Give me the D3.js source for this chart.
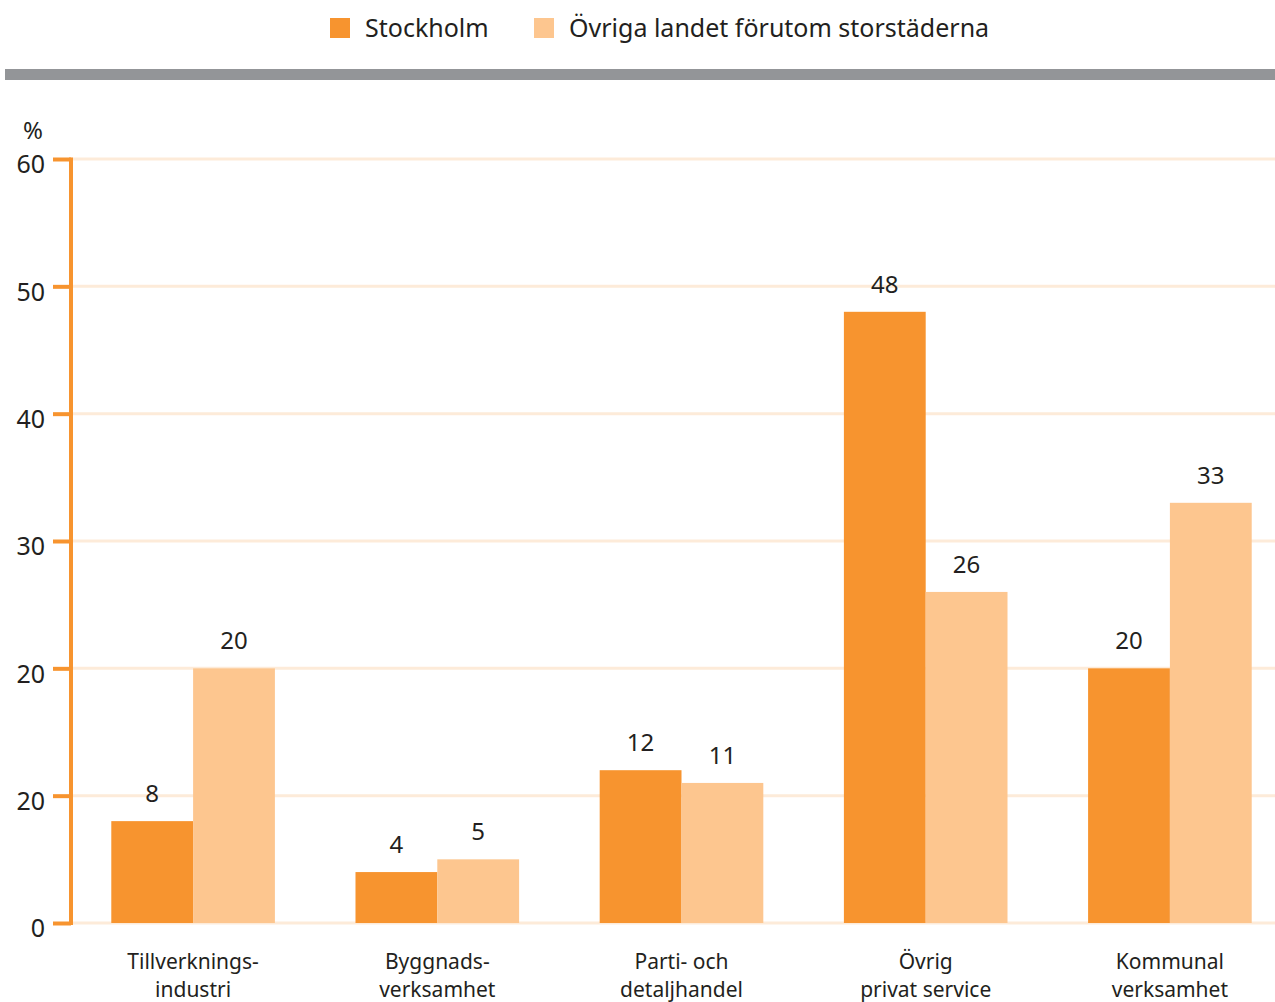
<!DOCTYPE html>
<html><head><meta charset="utf-8">
<script src="https://cdn.jsdelivr.net/npm/d3@7"></script>
<style>body{margin:0;background:#fff}svg{display:block}text{font-family:"Noto Sans",sans-serif;fill:#231f20}</style>
</head><body><svg id="c" width="1275" height="1002"></svg>
<script>
const categories = [["Tillverknings-","industri"],["Byggnads-","verksamhet"],["Parti- och","detaljhandel"],["Övrig","privat service"],["Kommunal","verksamhet"]];
const seriesNames = ["Stockholm","Övriga landet förutom storstäderna"];
const stockholm = [8,4,12,48,20];
const ovriga = [20,5,11,26,33];
const tickValues = [0,10,20,30,40,50,60];
const tickLabels = ["0","20","20","30","40","50","60"];
const colors = ["#f7942f","#fdc68f"];

const svg = d3.select("#c");
const y = d3.scaleLinear().domain([0,60]).range([923,159]);
const x0 = d3.scaleBand().domain(d3.range(categories.length)).range([71,1292]).paddingInner(0.33).paddingOuter(0.165);
const x1 = d3.scaleBand().domain([0,1]).range([0,x0.bandwidth()]);

// legend
const lg = svg.append("g");
const legX = [330,534];
seriesNames.forEach((n,i)=>{
  lg.append("rect").attr("x",legX[i]).attr("y",18).attr("width",20).attr("height",20).attr("fill",colors[i]);
  lg.append("text").attr("x",legX[i]+35).attr("y",37).attr("font-size",25).text(n);
});
// gray bar
svg.append("rect").attr("x",5).attr("y",69).attr("width",1270).attr("height",11).attr("fill","#939598");

// grid
svg.append("g").selectAll("line").data(tickValues).join("line")
  .attr("x1",71).attr("x2",1275).attr("y1",d=>y(d)).attr("y2",d=>y(d))
  .attr("stroke","#fdebd9").attr("stroke-width",3);

// bars
const data = categories.map((c,i)=>({i,vals:[stockholm[i],ovriga[i]]}));
const g = svg.append("g").selectAll("g").data(data).join("g").attr("transform",d=>`translate(${x0(d.i)},0)`);
g.selectAll("rect").data(d=>d.vals.map((v,k)=>({v,k}))).join("rect")
  .attr("x",d=>x1(d.k)).attr("width",x1.bandwidth()).attr("y",d=>y(d.v)).attr("height",d=>y(0)-y(d.v)).attr("fill",d=>colors[d.k]);
g.selectAll("text.v").data(d=>d.vals.map((v,k)=>({v,k}))).join("text").attr("class","v")
  .attr("x",d=>x1(d.k)+x1.bandwidth()/2).attr("y",d=>y(d.v)-19).attr("text-anchor","middle").attr("font-size",24).text(d=>d.v);

// y axis
const ya = d3.axisLeft(y).tickValues(tickValues).tickFormat((d,i)=>tickLabels[i]).tickSize(18).tickPadding(8);
const yg = svg.append("g").attr("transform","translate(71,0)").call(ya);
yg.select(".domain").attr("stroke","#f7942f").attr("stroke-width",4).attr("d","M0,157.5V925");
yg.selectAll(".tick line").attr("stroke","#f7942f").attr("stroke-width",4);
yg.selectAll(".tick text").attr("font-size",25).attr("fill","#231f20").attr("dy","0.55em").attr("x",-26).style("font-family","'Noto Sans',sans-serif");
svg.append("text").attr("x",33).attr("y",139).attr("text-anchor","middle").attr("font-size",24).text("%");

// category labels
const cl = svg.append("g").selectAll("text").data(categories).join("text")
  .attr("x",(d,i)=>x0(i)+x0.bandwidth()/2).attr("text-anchor","middle").attr("font-size",21);
cl.selectAll("tspan").data(d=>d).join("tspan").attr("x",function(){return this.parentNode.getAttribute("x")}).attr("y",(d,j)=>969+j*28).text(d=>d);
</script></body></html>
